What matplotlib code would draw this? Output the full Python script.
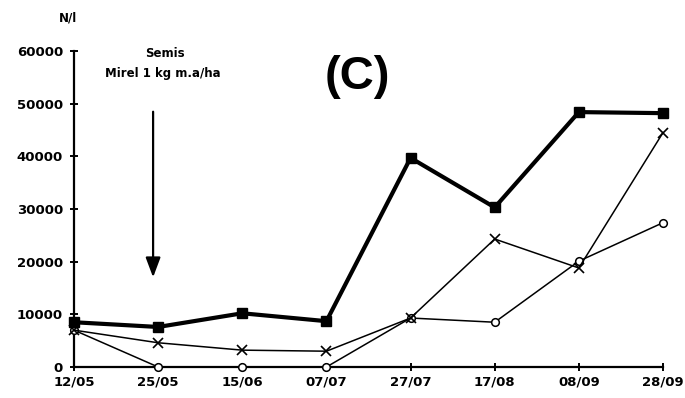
import matplotlib
matplotlib.use("Agg")
import matplotlib.pyplot as plt

dates = ["12/05", "25/05", "15/06", "07/07", "27/07", "17/08", "08/09", "28/09"]
squares = [8500, 7600, 10200, 8700, 39700, 30300, 48400, 48200]
crosses = [7000, 4600, 3200, 3000, 9300, 24300, 18800, 44500]
circles = [7000, 0, 0, 0, 9300, 8500, 20100, 27400]
yticks = [0, 10000, 20000, 30000, 40000, 50000, 60000]

fig = plt.figure(figsize=(6.85, 3.98), dpi=100)
ax = fig.add_axes([74/685, 1-367/398, (663-74)/685, (367-51)/398])
x = list(range(len(dates)))

ax.plot(x, circles, color="black", lw=1.1, marker="o", ms=5.5, mfc="white", mec="black", mew=1.1, clip_on=False, zorder=3)
ax.plot(x, crosses, color="black", lw=1.1, marker="x", ms=6.5, mew=1.2, clip_on=False, zorder=4)
ax.plot(x, squares, color="black", lw=3.0, marker="s", ms=6.5, mfc="black", mec="black", clip_on=False, zorder=5)

ax.set_xlim(0, len(dates)-1)
ax.set_ylim(0, 60000)
ax.set_xticks(x)
ax.set_xticklabels(dates)
ax.set_yticks(yticks)
ax.set_yticklabels([str(v) for v in yticks])
for s in ["top", "right"]:
    ax.spines[s].set_visible(False)
for s in ["left", "bottom"]:
    ax.spines[s].set_linewidth(1.6)
ax.tick_params(axis="both", direction="inout", length=6, width=1.4, labelsize=9.5)
ax.tick_params(axis="y", pad=5)
ax.tick_params(axis="x", pad=3)
for lab in ax.get_xticklabels() + ax.get_yticklabels():
    lab.set_fontweight("bold")

fig.text(68/685, 1-18/398, "N/l", ha="center", va="center", fontsize=8.5, fontweight="bold")
ax.text(1.08, 59600, "Semis", ha="center", va="center", fontsize=8.5, fontweight="bold")
ax.text(1.05, 55800, "Mirel 1 kg m.a/ha", ha="center", va="center", fontsize=8.5, fontweight="bold")
ax.annotate("", xy=(0.94, 16500), xytext=(0.94, 49000),
            arrowprops=dict(arrowstyle="-|>,head_length=1.2,head_width=0.45", color="black", lw=1.6))
fig.text(357/685, 1-77/398, "(C)", ha="center", va="center", fontsize=34, fontweight="bold",
         family=["Liberation Sans", "DejaVu Sans"])

fig.savefig("out.png", dpi=100)
